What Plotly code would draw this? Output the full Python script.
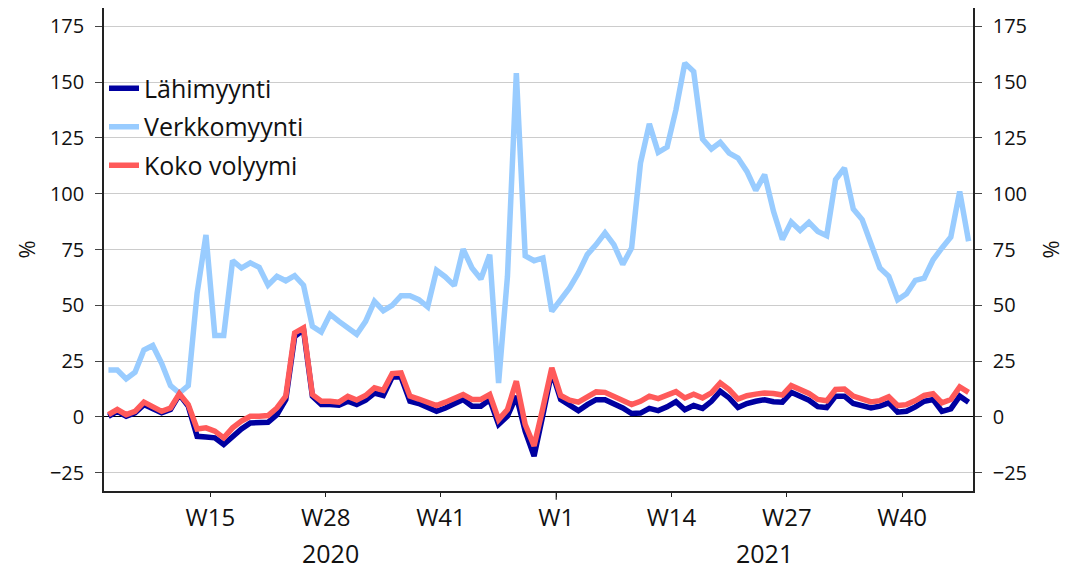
import plotly.graph_objects as go

# 98 weekly categories: 2020 W3 ... 2020 W53, 2021 W1 ... 2021 W47
weeks_2020 = [f"2020-W{w}" for w in range(3, 54)]
weeks_2021 = [f"2021-W{w}" for w in range(1, 48)]
categories = weeks_2020 + weeks_2021

lahimyynti = [0.3, 2.5, 0.3, 1.8, 5.5, 3.6, 1.8, 3.3, 10, 4.8,
              -8.7, -9, -9.4, -12.4, -8.7, -5.4, -2.7, -2.7, -2.4, 1,
              7.8, 36, 39, 9.3, 5.5, 5.5, 5.2, 7, 5.5, 7.5,
              10.7, 9.6, 17.9, 17.9, 7, 6, 4.5, 2.5, 4, 6,
              7.8, 4.8, 4.8, 7.8, -3.4, 0.3, 9.3, -6.4, -17.6, 1,
              20.4, 7.8, 5, 2.8, 5.5, 7.7, 7.7, 6, 4, 1.5,
              1.7, 3.8, 2.8, 4.5, 6.8, 3.2, 5.1, 3.8, 7, 11.5,
              8.5, 4.2, 6, 7, 7.7, 6.8, 6.6, 11, 9.3, 7.5,
              4.6, 4.2, 9.3, 9.3, 6, 5.1, 4, 4.8, 6.3, 2.1,
              2.5, 4.5, 7, 7.8, 2.5, 3.6, 9.3, 6.6]

verkkomyynti = [21, 21, 17, 20, 30, 32, 24, 14, 10.7, 14,
                55.5, 81.5, 36.5, 36.5, 70, 66.7, 69, 67, 59, 63,
                61, 63.3, 59, 40.6, 38, 46, 42.8, 40, 37, 42.8,
                51.8, 47.6, 50, 54.3, 54.3, 52.5, 49.3, 65.7, 62.7, 58.8,
                75.2, 66.7, 61.8, 72.7, 15.2, 63, 154, 72.2, 70, 71.2,
                47.3, 52.5, 57.8, 64.5, 72.7, 77.2, 82.5, 77.2, 68.3, 75.7,
                113.7, 131.3, 118.5, 120.9, 137.6, 158.5, 154.7, 124.5, 120, 123,
                118.2, 116, 110, 101.5, 108.5, 92.1, 79.5, 87.3, 83.5, 87.2,
                83.1, 81.2, 106.3, 111.5, 93.1, 88.4, 77.2, 66.7, 63, 52.5,
                55.2, 61.2, 62.2, 70.4, 75.7, 80.6, 101, 78.7]

koko_volyymi = [1, 3.3, 1, 2.5, 6.6, 4.8, 2.5, 4, 10.4, 5.5,
                -5.4, -4.9, -6.4, -9.4, -4.9, -1.9, 0.3, 0.3, 0.6, 4,
                9.3, 37.6, 39.9, 10, 7, 7, 6.6, 9.2, 7.6, 9.6,
                13, 11.9, 19.4, 19.7, 9.3, 8, 6.6, 5.1, 6.6, 8,
                10, 7.8, 7.8, 10, -1.2, 3.3, 16, -3.4, -13, 4,
                22, 9.6, 7.5, 6.6, 9, 11.2, 11, 9.3, 7.5, 5.5,
                7, 9.3, 8.2, 9.6, 11.3, 8.5, 10.2, 8.5, 10.8, 15.2,
                12.2, 8, 9.5, 10.2, 10.7, 10.5, 9.8, 14, 12.3, 10.5,
                7.8, 7.2, 12.3, 12.5, 9.3, 8.2, 6.7, 7.3, 9, 5.1,
                5.5, 7.3, 9.6, 10.4, 6.3, 7.8, 13.4, 11]

tick_labels = ["W15", "W28", "W41", "W1", "W14", "W27", "W40"]
tick_weeks = ["2020-W15", "2020-W28", "2020-W41", "2021-W1", "2021-W14", "2021-W27", "2021-W40"]
year_labels = ["2020", "2021"]
y_ticks = [-25, 0, 25, 50, 75, 100, 125, 150, 175]

names = ["Lähimyynti", "Verkkomyynti", "Koko volyymi"]
colors = ["#0000A0", "#99CCFF", "#FF5A5A"]

# category positions: each category occupies one unit, point at its centre
xpos = [i + 0.5 for i in range(len(categories))]
tickvals = [categories.index(w) for w in tick_weeks]
year_centers = [len(weeks_2020) / 2, len(weeks_2020) + len(weeks_2021) / 2]

FONT = "Open Sans"
TXT = "#111111"
fig = go.Figure()

series = {"Lähimyynti": lahimyynti, "Verkkomyynti": verkkomyynti, "Koko volyymi": koko_volyymi}
draw_order = ["Verkkomyynti", "Lähimyynti", "Koko volyymi"]
for nm in draw_order:
    k = names.index(nm)
    fig.add_trace(go.Scatter(
        x=xpos, y=series[nm], mode="lines", name=nm, legendgroup=nm,
        line=dict(color=colors[k], width=5.5),
        legendrank=k + 1, hoverinfo="skip",
    ))

# invisible trace to activate the right-hand axis
fig.add_trace(go.Scatter(x=[xpos[0]], y=[0], yaxis="y2", mode="lines",
                         showlegend=False, opacity=0, hoverinfo="skip"))

yrange = [-33.2, 183.2]
fig.update_layout(
    width=1067, height=569,
    margin=dict(l=104, r=94, t=8, b=78),
    paper_bgcolor="white", plot_bgcolor="white",
    font=dict(family=FONT, color=TXT),
    showlegend=True,
    legend=dict(x=0.0, y=0.881, xanchor="left", yanchor="top",
                font=dict(family=FONT, size=25, color=TXT),
                bgcolor="rgba(0,0,0,0)", itemwidth=30, tracegroupgap=3),
    xaxis=dict(range=[0, len(categories)], tickmode="array", tickvals=tickvals,
               ticktext=tick_labels, ticks="outside", ticklen=4, tickcolor="#222",
               tickfont=dict(family=FONT, size=24, color=TXT),
               showgrid=False, showline=True, linecolor="#222", linewidth=1.5,
               zeroline=False, fixedrange=True),
    yaxis=dict(range=yrange, tickmode="array", tickvals=y_ticks,
               ticks="outside", ticklen=7, tickcolor="#444", ticklabelstandoff=7,
               tickfont=dict(family=FONT, size=20, color=TXT),
               showgrid=True, gridcolor="#CCCCCC", gridwidth=1,
               zeroline=True, zerolinecolor="#000000", zerolinewidth=1.2,
               showline=True, linecolor="#222", linewidth=1.5, fixedrange=True),
    yaxis2=dict(range=yrange, overlaying="y", side="right", tickmode="array",
                tickvals=y_ticks, ticks="outside", ticklen=7, tickcolor="#444",
                ticklabelstandoff=7,
                tickfont=dict(family=FONT, size=20, color=TXT),
                showgrid=False, zeroline=False,
                showline=True, linecolor="#222", linewidth=1.5, fixedrange=True),
)

# longer tick marking the year boundary
fig.add_shape(type="line", xref="x", yref="paper", x0=tickvals[3], x1=tickvals[3],
              y0=0, y1=-0.018, line=dict(color="#222", width=1.2))

for lbl, xc in zip(year_labels, year_centers):
    fig.add_annotation(x=xc, y=-0.128, xref="x", yref="paper", text=lbl,
                       showarrow=False, yanchor="middle",
                       font=dict(family=FONT, size=25, color=TXT))

for xp in (-0.0909, 1.0886):
    fig.add_annotation(x=xp, y=0.5, xref="paper", yref="paper", text="%",
                       showarrow=False, textangle=-90, xanchor="center",
                       yanchor="middle",
                       font=dict(family=FONT, size=22, color=TXT))

fig.write_html("out.html", config={"displayModeBar": False},
               post_script="document.body.style.margin='0px';document.body.style.overflow='hidden';")
